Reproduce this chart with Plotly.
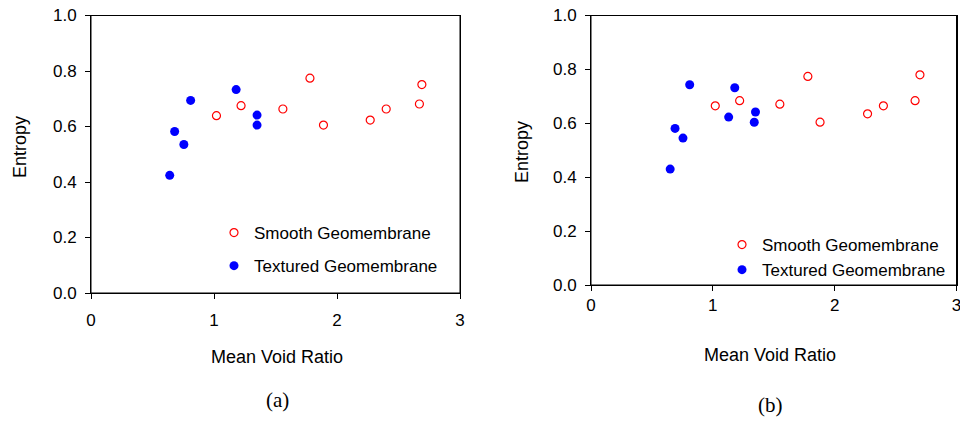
import plotly.graph_objects as go

# ---- Data ----
# Panel (a)
a_smooth_x = [1.02, 1.22, 1.56, 1.78, 1.89, 2.27, 2.40, 2.67, 2.69]
a_smooth_y = [0.639, 0.675, 0.663, 0.774, 0.605, 0.623, 0.663, 0.681, 0.751]
a_text_x = [0.64, 0.68, 0.755, 0.81, 1.18, 1.35, 1.35]
a_text_y = [0.424, 0.582, 0.535, 0.694, 0.733, 0.641, 0.605]

# Panel (b)
b_smooth_x = [1.02, 1.22, 1.55, 1.78, 1.88, 2.27, 2.40, 2.66, 2.70]
b_smooth_y = [0.665, 0.684, 0.671, 0.774, 0.604, 0.635, 0.665, 0.684, 0.780]
b_text_x = [0.65, 0.69, 0.755, 0.81, 1.13, 1.18, 1.35, 1.34]
b_text_y = [0.430, 0.581, 0.545, 0.743, 0.623, 0.732, 0.642, 0.604]

x_ticks = [0, 1, 2, 3]
y_ticks = [0.0, 0.2, 0.4, 0.6, 0.8, 1.0]
smooth_name = "Smooth Geomembrane"
textured_name = "Textured Geomembrane"
x_title = "Mean Void Ratio"
y_title = "Entropy"
panel_labels = ["(a)", "(b)"]

W, H = 960, 423
SANS = "Liberation Sans, Arial, sans-serif"
SERIF = "Liberation Serif, Times New Roman, serif"

fig = go.Figure()

def add_panel(sx, sy, tx, ty, xa, ya, leg):
    fig.add_trace(go.Scatter(
        x=sx, y=sy, mode="markers", name=smooth_name, legend=leg,
        legendgroup=leg + "s", xaxis=xa, yaxis=ya,
        marker=dict(symbol="circle-open", size=8, color="#ff0000",
                    line=dict(width=1.2, color="#ff0000"))))
    fig.add_trace(go.Scatter(
        x=tx, y=ty, mode="markers", name=textured_name, legend=leg,
        legendgroup=leg + "t", xaxis=xa, yaxis=ya,
        marker=dict(symbol="circle", size=9, color="#0000ff")))

add_panel(a_smooth_x, a_smooth_y, a_text_x, a_text_y, "x", "y", "legend")
add_panel(b_smooth_x, b_smooth_y, b_text_x, b_text_y, "x2", "y2", "legend2")

def px_x(p):
    return p / W

def px_y(p):
    return 1 - p / H

axis_common = dict(
    showline=True, linecolor="black", linewidth=1, mirror=True,
    ticks="outside", ticklen=5, tickcolor="black", tickwidth=1,
    showgrid=False, zeroline=False, automargin=False,
    ticklabeloverflow="allow",
    tickfont=dict(family=SANS, size=17, color="black"),
)

fig.update_layout(
    width=W, height=H,
    margin=dict(l=0, r=0, t=0, b=0, pad=0, autoexpand=False),
    paper_bgcolor="white", plot_bgcolor="white",
    showlegend=True,
    xaxis=dict(domain=[px_x(91), px_x(460)], range=[0, 3], tickvals=x_ticks,
               ticklabelstandoff=7, anchor="y", **axis_common),
    yaxis=dict(domain=[px_y(293), px_y(15.5)], range=[0, 1], tickvals=y_ticks,
               tickformat=".1f", ticklabelstandoff=5, anchor="x", **axis_common),
    xaxis2=dict(domain=[px_x(591), px_x(956.5)], range=[0, 3], tickvals=x_ticks,
                ticklabelstandoff=0, anchor="y2", **axis_common),
    yaxis2=dict(domain=[px_y(285), px_y(15.5)], range=[0, 1], tickvals=y_ticks,
                tickformat=".1f", ticklabelstandoff=5, anchor="x2", **axis_common),
    legend=dict(x=px_x(214), y=px_y(215), xanchor="left", yanchor="top",
                bgcolor="rgba(0,0,0,0)", traceorder="grouped", tracegroupgap=8,
                font=dict(family=SANS, size=17, color="black")),
    legend2=dict(x=px_x(722), y=px_y(227), xanchor="left", yanchor="top",
                 bgcolor="rgba(0,0,0,0)", traceorder="grouped", tracegroupgap=0,
                 font=dict(family=SANS, size=17, color="black")),
)

# plot-area frames (box around each panel)
for xr, yr in (("x domain", "y domain"), ("x2 domain", "y2 domain")):
    fig.add_shape(type="rect", xref=xr, yref=yr, x0=0, x1=1, y0=0, y1=1,
                  line=dict(color="black", width=1), layer="above")

annots = [
    dict(text=x_title, x=px_x(277), y=px_y(357), font=dict(family=SANS, size=18)),
    dict(text=x_title, x=px_x(770), y=px_y(355), font=dict(family=SANS, size=18)),
    dict(text=y_title, x=px_x(20), y=px_y(147), textangle=-90, font=dict(family=SANS, size=18)),
    dict(text=y_title, x=px_x(522), y=px_y(152), textangle=-90, font=dict(family=SANS, size=18)),
    dict(text=panel_labels[0], x=px_x(277), y=px_y(400), font=dict(family=SERIF, size=21)),
    dict(text=panel_labels[1], x=px_x(770), y=px_y(405), font=dict(family=SERIF, size=21)),
]
for a in annots:
    a.update(xref="paper", yref="paper", showarrow=False, xanchor="center", yanchor="middle")
    a["font"]["color"] = "black"
    fig.add_annotation(**a)

# remove the browser's default 8px body margin so the figure fills the window
fig.write_html("out.html", config={"displayModeBar": False},
               post_script="document.body.style.margin='0';document.body.style.overflow='hidden';")
